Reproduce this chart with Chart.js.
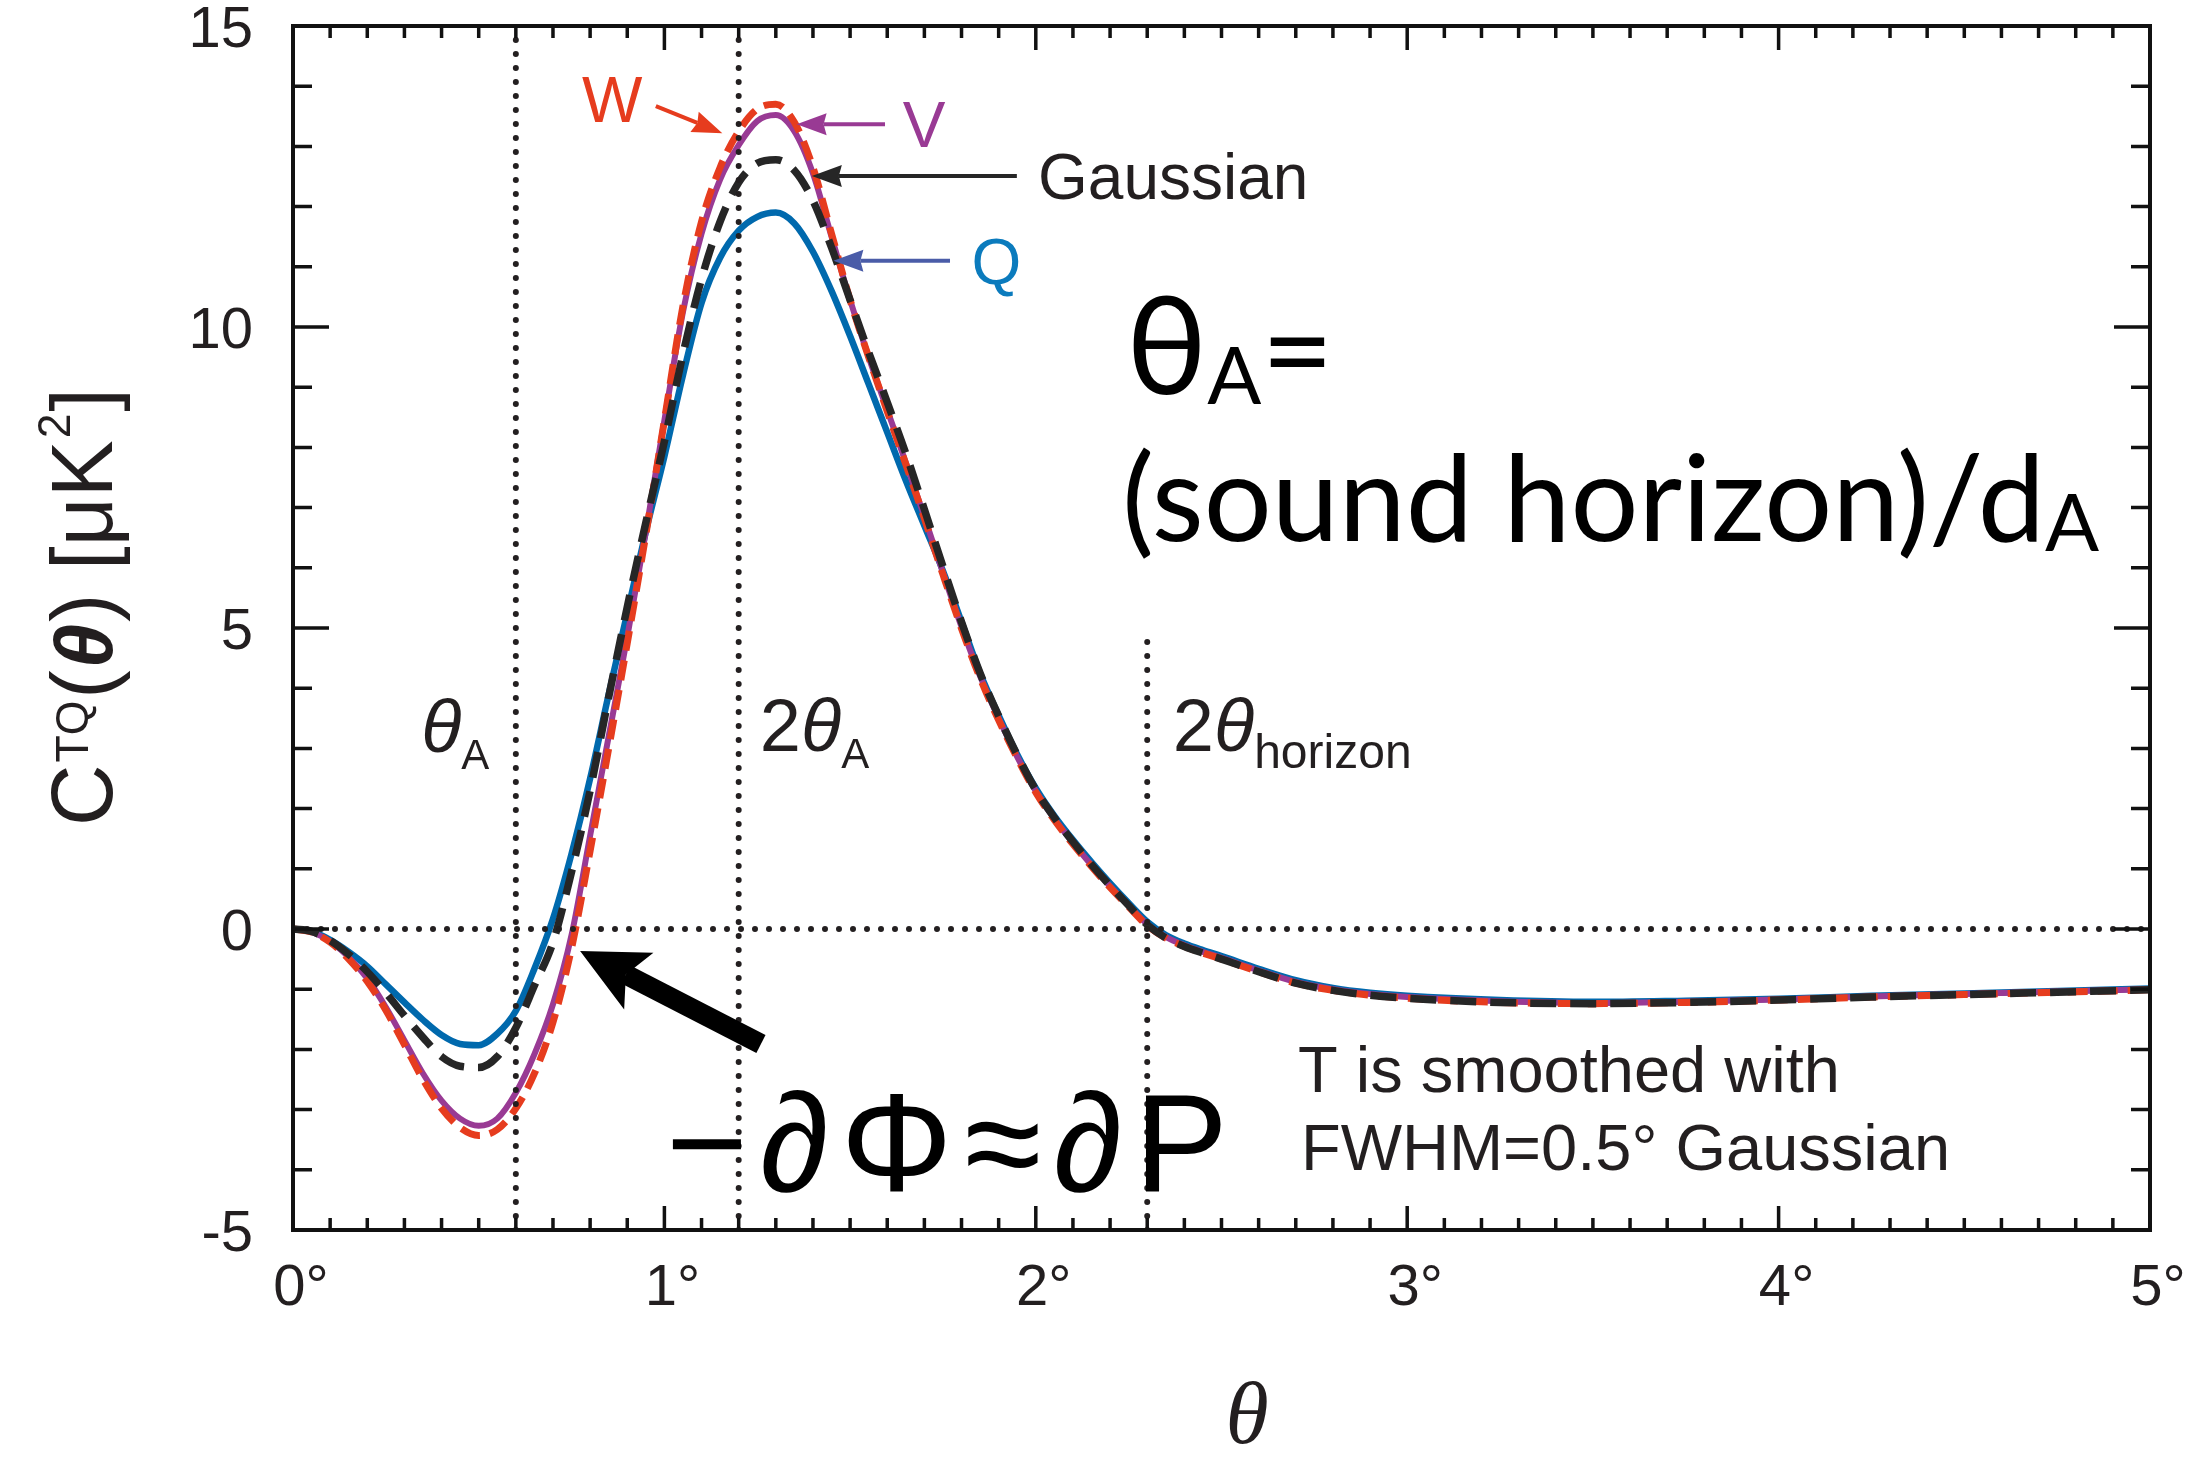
<!DOCTYPE html>
<html>
<head>
<meta charset="utf-8">
<script src="https://cdn.jsdelivr.net/npm/chart.js@4.4.1/dist/chart.umd.min.js"></script>
<style>
  html, body { margin: 0; padding: 0; background: #fff; }
  #wrap { width: 2197px; height: 1457px; position: relative; }
</style>
</head>
<body>
<div id="wrap"><canvas id="chart"></canvas></div>
<script>
/* ---------- data ---------- */
const thetaDeg = [0, 0.05, 0.1, 0.15, 0.2, 0.25, 0.3, 0.35, 0.4, 0.45, 0.5, 0.55, 0.6, 0.65, 0.7, 0.75, 0.8, 0.85, 0.9, 0.95,
  1.0, 1.05, 1.1, 1.15, 1.2, 1.25, 1.3, 1.35, 1.4, 1.45, 1.5, 1.55, 1.6, 1.65, 1.7, 1.75, 1.8, 1.85, 1.9, 1.95,
  2.0, 2.05, 2.1, 2.15, 2.2, 2.25, 2.3, 2.35, 2.4, 2.45, 2.5, 2.6, 2.7, 2.8, 2.9, 3.0, 3.25, 3.5, 3.75, 4.0, 4.25, 4.5, 4.75, 5.0];

const cQ = [0, -0.04, -0.18, -0.38, -0.62, -0.92, -1.22, -1.51, -1.76, -1.91, -1.93, -1.74, -1.36, -0.66, 0.17, 1.25, 2.5, 3.9, 5.25, 6.6,
  7.85, 9.2, 10.4, 11.15, 11.6, 11.83, 11.9, 11.72, 11.25, 10.6, 9.85, 9.05, 8.25, 7.45, 6.7, 5.95, 5.1, 4.25, 3.55, 2.9,
  2.34, 1.88, 1.48, 1.11, 0.76, 0.43, 0.12, -0.1, -0.24, -0.35, -0.45, -0.66, -0.85, -0.98, -1.06, -1.11, -1.18, -1.21, -1.19, -1.16, -1.11, -1.07, -1.03, -0.99];

const cV = [0, -0.05, -0.21, -0.47, -0.82, -1.3, -1.85, -2.4, -2.85, -3.15, -3.27, -3.15, -2.72, -2.08, -1.25, -0.1, 1.55, 3.2, 4.85, 6.6,
  8.45, 10.25, 11.55, 12.45, 13.02, 13.42, 13.52, 13.25, 12.55, 11.5, 10.45, 9.5, 8.62, 7.75, 6.85, 5.92, 5.02, 4.2, 3.5, 2.86,
  2.29, 1.83, 1.43, 1.06, 0.71, 0.39, 0.08, -0.13, -0.27, -0.38, -0.48, -0.69, -0.88, -1.0, -1.08, -1.13, -1.2, -1.23, -1.21, -1.17, -1.12, -1.08, -1.04, -1.0];

const cW = [0, -0.05, -0.22, -0.5, -0.87, -1.35, -1.92, -2.5, -2.98, -3.3, -3.43, -3.33, -2.98, -2.4, -1.55, -0.32, 1.3, 3.0, 4.75, 6.55,
  8.45, 10.35, 11.75, 12.65, 13.25, 13.62, 13.7, 13.4, 12.65, 11.55, 10.45, 9.5, 8.6, 7.72, 6.82, 5.89, 4.99, 4.17, 3.47, 2.84,
  2.27, 1.81, 1.41, 1.04, 0.69, 0.37, 0.06, -0.15, -0.29, -0.4, -0.5, -0.71, -0.9, -1.02, -1.1, -1.15, -1.22, -1.24, -1.22, -1.18, -1.13, -1.09, -1.05, -1.01];

const cGauss = [0, -0.04, -0.19, -0.42, -0.71, -1.06, -1.44, -1.8, -2.12, -2.28, -2.3, -2.12, -1.64, -0.94, -0.22, 0.95, 2.3, 3.85, 5.35, 6.75,
  8.1, 9.55, 10.8, 11.75, 12.4, 12.72, 12.78, 12.6, 12.1, 11.32, 10.45, 9.58, 8.75, 7.9, 6.97, 6.02, 5.1, 4.25, 3.54, 2.89,
  2.31, 1.85, 1.45, 1.07, 0.72, 0.39, 0.07, -0.15, -0.29, -0.4, -0.5, -0.71, -0.9, -1.02, -1.1, -1.15, -1.22, -1.24, -1.22, -1.18, -1.13, -1.09, -1.05, -1.01];

// dotted guides: zero line, and vertical lines at thetaA, 2thetaA, 2theta_horizon
const zeroLineX = [0, 5];
const vLineAt = [0.6, 1.2, 2.3];
const vLineTop = [15, 15, 5];

const xTickLabels = ['0°', '1°', '2°', '3°', '4°', '5°'];
const yTickLabels = ['-5', '0', '5', '10', '15'];

/* ---------- styles ---------- */
const INK = '#231f20';
const SANS = '"Liberation Sans", Arial, Helvetica, sans-serif';
const HUMAN = '"Lato", "Open Sans", "Noto Sans", sans-serif';
const C_Q = '#0069ad', C_V = '#993a94', C_W = '#e63c1e', C_G = '#262626';

const pts = (ys) => thetaDeg.map((x, i) => ({ x, y: ys[i] }));

const curve = (label, ys, color, width, dash, order) => ({
  label, data: pts(ys), borderColor: color, borderWidth: width, borderDash: dash,
  pointRadius: 0, cubicInterpolationMode: 'monotone', fill: false, order
});

const dotted = (data) => ({
  data, borderColor: INK, borderWidth: 6, borderDash: [0, 14], borderCapStyle: 'round',
  pointRadius: 0, tension: 0, fill: false, order: 0
});

const datasets = [
  curve('Q', cQ, C_Q, 6.5, [], 5),
  curve('V', cV, C_V, 6, [], 4),
  curve('W', cW, C_W, 7, [20, 10], 3),
  curve('Gaussian', cGauss, C_G, 7.5, [26, 14], 2),
  dotted(zeroLineX.map(x => ({ x, y: 0 }))),
  ...vLineAt.map((x, i) => dotted([{ x, y: -5 }, { x, y: vLineTop[i] }]))
];

/* ---------- drawing helpers ---------- */
function runs(ctx, x, y, parts, gap = 0) {
  let cx = x;
  for (const p of parts) {
    ctx.font = p.f;
    ctx.fillStyle = p.c || INK;
    ctx.fillText(p.t, cx, y + (p.dy || 0));
    cx += ctx.measureText(p.t).width + gap;
  }
  return cx - x;
}

function runsWidth(ctx, parts, gap = 0) {
  let w = 0;
  for (const p of parts) { ctx.font = p.f; w += ctx.measureText(p.t).width + gap; }
  return w;
}

function arrow(ctx, x0, y0, x1, y1, color, lw, hl, hw, notch) {
  const dx = x1 - x0, dy = y1 - y0, d = Math.hypot(dx, dy);
  const ux = dx / d, uy = dy / d, nx = -uy, ny = ux;
  const bx = x1 - ux * hl * notch, by = y1 - uy * hl * notch;
  ctx.strokeStyle = color; ctx.fillStyle = color;
  ctx.lineWidth = lw; ctx.lineCap = 'butt'; ctx.setLineDash([]);
  ctx.beginPath(); ctx.moveTo(x0, y0); ctx.lineTo(bx, by); ctx.stroke();
  ctx.beginPath();
  ctx.moveTo(x1, y1);
  ctx.lineTo(x1 - ux * hl + nx * hw, y1 - uy * hl + ny * hw);
  ctx.lineTo(bx, by);
  ctx.lineTo(x1 - ux * hl - nx * hw, y1 - uy * hl - ny * hw);
  ctx.closePath(); ctx.fill();
}

/* ---------- frame, inward ticks, annotations ---------- */
const decor = {
  id: 'decor',
  afterDatasetsDraw(chart) {
    const { ctx, chartArea: a, scales: { x, y } } = chart;
    const X = (v) => x.getPixelForValue(v), Y = (v) => y.getPixelForValue(v);
    ctx.save();
    ctx.setLineDash([]);
    ctx.strokeStyle = '#111';
    ctx.lineWidth = 3.5;
    ctx.lineCap = 'butt';

    // minor/major ticks on x (every 0.1 deg)
    ctx.beginPath();
    for (let i = 0; i <= 50; i++) {
      const px = X(i / 10), len = i % 10 === 0 ? 24 : 12;
      ctx.moveTo(px, a.bottom); ctx.lineTo(px, a.bottom - len);
      ctx.moveTo(px, a.top); ctx.lineTo(px, a.top + len);
    }
    // ticks on y (every 1 uK^2)
    for (let v = -5; v <= 15; v++) {
      const py = Y(v), len = v % 5 === 0 ? 36 : 19;
      ctx.moveTo(a.left, py); ctx.lineTo(a.left + len, py);
      ctx.moveTo(a.right, py); ctx.lineTo(a.right - len, py);
    }
    ctx.stroke();
    ctx.lineWidth = 4;
    ctx.strokeRect(a.left, a.top, a.right - a.left, a.bottom - a.top);

    ctx.textBaseline = 'alphabetic';
    ctx.textAlign = 'left';

    // band labels with arrows
    arrow(ctx, X(0.977), Y(13.67), X(1.156), Y(13.22), C_W, 4, 30, 11, 0.9);
    runs(ctx, X(0.778), Y(13.41), [{ t: 'W', f: `64px ${SANS}`, c: C_W }]);
    arrow(ctx, X(1.594), Y(13.37), X(1.356), Y(13.37), C_V, 4, 30, 11, 0.9);
    runs(ctx, X(1.642), Y(12.99), [{ t: 'V', f: `64px ${SANS}`, c: C_V }]);
    arrow(ctx, X(1.949), Y(12.51), X(1.397), Y(12.51), C_G, 4, 30, 11, 0.9);
    runs(ctx, X(2.006), Y(12.13), [{ t: 'Gaussian', f: `64px ${SANS}` }]);
    arrow(ctx, X(1.769), Y(11.10), X(1.455), Y(11.10), '#4a5ca8', 4, 30, 11, 0.9);
    runs(ctx, X(1.827), Y(10.71), [{ t: 'Q', f: `64px ${SANS}`, c: '#0b7bbd' }]);

    // theta labels on guide lines
    const big = `74px ${SANS}`, it = `italic 74px ${SANS}`, sub = `42px ${SANS}`;
    runs(ctx, X(0.345), Y(2.94), [{ t: 'θ', f: it }, { t: 'A', f: sub, dy: 17 }]);
    runs(ctx, X(1.257), Y(2.96), [{ t: '2', f: big }, { t: 'θ', f: it }, { t: 'A', f: sub, dy: 17 }]);
    runs(ctx, X(2.369), Y(2.96), [{ t: '2', f: big }, { t: 'θ', f: it }, { t: 'horizon', f: `48px ${SANS}`, dy: 17 }]);

    // big formula
    runs(ctx, X(2.243), Y(8.89), [
      { t: 'θ', f: `136px ${HUMAN}`, c: '#000' },
      { t: 'A', f: `80px ${HUMAN}`, c: '#000', dy: 10 },
      { t: '=', f: `124px ${HUMAN}`, c: '#000' }
    ]);
    runs(ctx, X(2.232), Y(6.45), [
      { t: '(sound horizon)/d', f: `120px ${HUMAN}`, c: '#000' },
      { t: 'A', f: `80px ${HUMAN}`, c: '#000', dy: 10 }
    ]);

    // -dPhi ~ dP with arrow
    arrow(ctx, X(1.26), Y(-1.91), X(0.773), Y(-0.365), '#000', 20, 66, 32, 0.78);
    runs(ctx, X(1.004), Y(-4.35), [
      { t: '−', f: `140px ${SANS}`, c: '#000' },
      { t: '∂', f: `140px ${SANS}`, c: '#000' },
      { t: 'Φ', f: `140px ${SANS}`, c: '#000' },
      { t: '≈', f: `140px ${SANS}`, c: '#000' },
      { t: '∂', f: `140px ${SANS}`, c: '#000' },
      { t: 'P', f: `140px ${SANS}`, c: '#000' }
    ], 12);

    runs(ctx, X(2.706), Y(-2.71), [{ t: 'T is smoothed with', f: `65px ${SANS}` }]);
    runs(ctx, X(2.714), Y(-4.0), [{ t: 'FWHM=0.5° Gaussian', f: `65px ${SANS}` }]);

    // axis titles
    ctx.font = `italic 88px "Liberation Serif", "DejaVu Serif", serif`;
    ctx.fillStyle = INK;
    ctx.textAlign = 'center';
    ctx.fillText('θ', a.left + 954, 1443);
    ctx.textAlign = 'left';

    const yt = [
      { t: 'C', f: `88px ${SANS}` },
      { t: 'TQ', f: `46px ${SANS}`, dy: -24 },
      { t: '(', f: `88px ${SANS}` },
      { t: 'θ', f: `italic bold 82px ${SANS}` },
      { t: ') [μK', f: `88px ${SANS}` },
      { t: '2', f: `46px ${SANS}`, dy: -42 },
      { t: ']', f: `88px ${SANS}` }
    ];
    const w = runsWidth(ctx, yt, 2);
    ctx.save();
    ctx.translate(112, 606);
    ctx.rotate(-Math.PI / 2);
    ctx.scale(440 / w, 1);
    runs(ctx, -w / 2, 0, yt, 2);
    ctx.restore();

    ctx.restore();
  }
};

Chart.defaults.font.family = SANS;
Chart.defaults.color = INK;

new Chart(document.getElementById('chart'), {
  type: 'line',
  data: { datasets },
  options: {
    responsive: true,
    maintainAspectRatio: false,
    devicePixelRatio: 1,
    animation: false,
    layout: { padding: { top: 26, right: 47, left: 0, bottom: 0 } },
    plugins: { legend: { display: false }, tooltip: { enabled: false } },
    scales: {
      x: {
        type: 'linear', min: 0, max: 5,
        grid: { display: false, drawTicks: false },
        border: { display: false },
        ticks: {
          stepSize: 1, autoSkip: false, maxRotation: 0, padding: 34, labelOffset: 8,
          font: { size: 58, lineHeight: 0.85 }, color: INK,
          callback: (v, i) => xTickLabels[i]
        },
        afterFit: (s) => { s.height = 227; s.paddingLeft = 0; s.paddingRight = 0; }
      },
      y: {
        type: 'linear', min: -5, max: 15,
        grid: { display: false, drawTicks: false },
        border: { display: false },
        ticks: {
          stepSize: 5, padding: 40, labelOffset: 5,
          font: { size: 58, lineHeight: 0.85 }, color: INK,
          callback: (v, i) => yTickLabels[i]
        },
        afterFit: (s) => { s.width = 293; s.paddingTop = 0; s.paddingBottom = 0; }
      }
    }
  },
  plugins: [decor]
});
</script>
</body>
</html>
